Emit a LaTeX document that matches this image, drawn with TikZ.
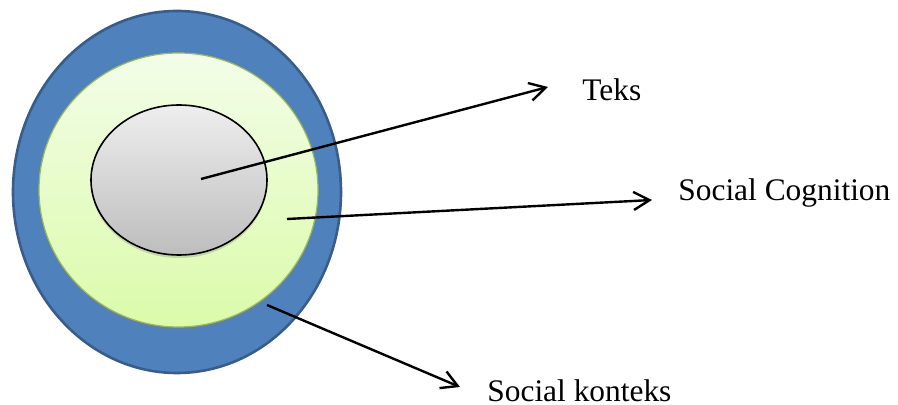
\documentclass[tikz,border=0pt]{standalone}
\usepackage{fontspec}
\setmainfont{Liberation Serif}
\usetikzlibrary{shapes.geometric,arrows.meta,shadows}

\definecolor{outerblue}{HTML}{4F81BD}
\definecolor{outerline}{HTML}{385D8A}
\definecolor{greentop}{HTML}{F3FDE8}
\definecolor{greenbot}{HTML}{DBFBAA}
\definecolor{greenline}{HTML}{9BBB59}
\definecolor{greytop}{HTML}{EEEEEE}
\definecolor{greybot}{HTML}{BDBDBD}

\tikzset{
  layer/.style={ellipse, inner sep=0pt},
  label text/.style={anchor=base west, inner sep=0pt, font=\fontsize{15.7}{18}\selectfont},
  pointer/.style={line width=1.2pt, -{Straight Barb[length=8pt,width=9pt]}}
}

\begin{document}
\begin{tikzpicture}[x=0.5pt, y=-0.5pt]
    \useasboundingbox (0,0) rectangle (898,405);

    % Nodes
    \node (konteks) [{layer, fill=outerblue, draw=outerline, line width=1.3pt, minimum width=164pt, minimum height=181pt}] at (177,192) {};
    \node (cognition) [{layer, top color=greentop, bottom color=greenbot, draw=greenline, line width=0.6pt, minimum width=139.5pt, minimum height=137pt, drop shadow={shadow xshift=0pt, shadow yshift=-1.5pt, opacity=0.3}}] at (178.5,190) {};
    \node (teks) [{layer, top color=greytop, bottom color=greybot, draw=black, line width=0.8pt, minimum width=88pt, minimum height=75pt, drop shadow={shadow xshift=0pt, shadow yshift=-1.5pt, opacity=0.3}}] at (179,180) {};

    % Labels
    \node (teks label) [label text] at (582,101) {Teks};
    \node (cognition label) [label text] at (678,201) {Social Cognition};
    \node (konteks label) [label text] at (487,401) {Social konteks};

    % Start and end points of the arrows
    \coordinate (teks start) at (201,179);
    \coordinate (teks tip) at (548,87);
    \coordinate (cognition start) at (287,219);
    \coordinate (cognition tip) at (652,200);
    \coordinate (konteks start) at (267,305);
    \coordinate (konteks tip) at (460,387);

    % Arrows
    \draw[pointer] (teks start) -- (teks tip);
    \draw[pointer] (cognition start) -- (cognition tip);
    \draw[pointer] (konteks start) -- (konteks tip);

\end{tikzpicture}
\end{document}
